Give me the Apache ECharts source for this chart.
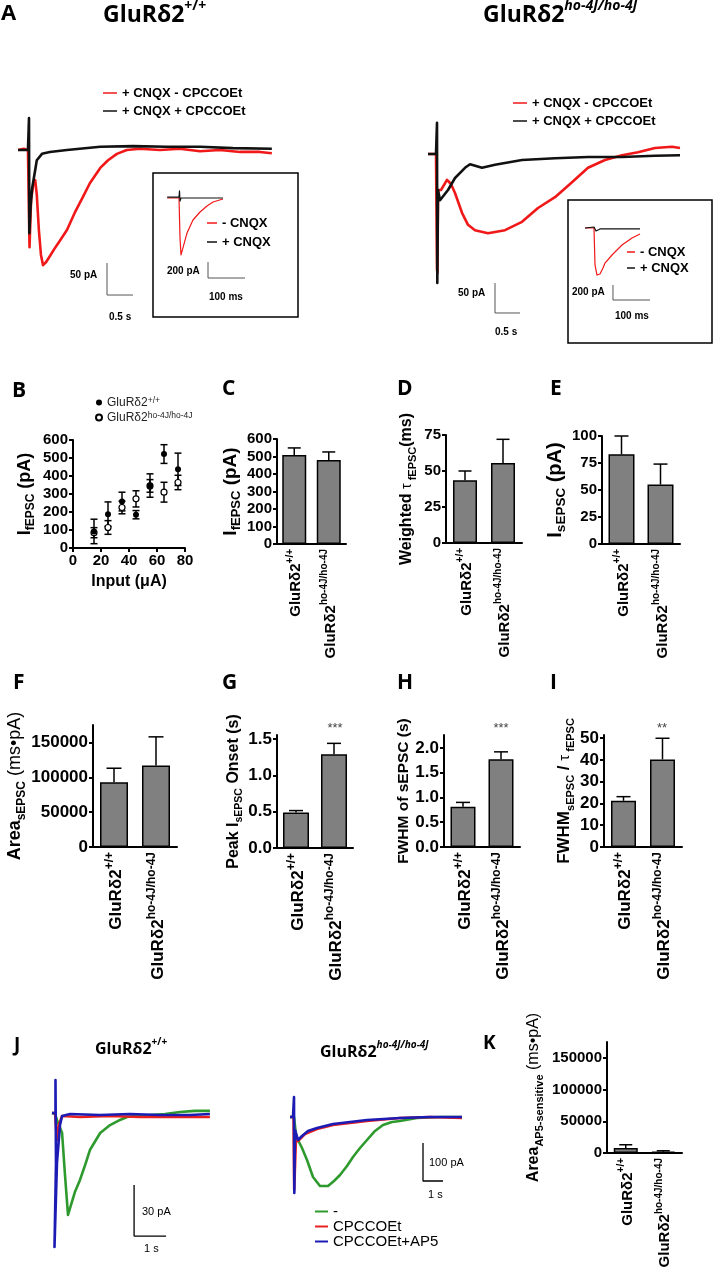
<!DOCTYPE html>
<html><head><meta charset="utf-8">
<script src="https://cdn.jsdelivr.net/npm/echarts@6/dist/echarts.min.js"></script>
<style>html,body{margin:0;padding:0;background:#fff}#c{width:713px;height:1280px}</style>
</head><body><div id="c"></div>
<script>
// ---------------- DATA ----------------
// Panel A traces: [time (s), current (pA)]
const aWtMinusCpcc = [[-0.21,0],[-0.10,2],[-0.02,0],[0.01,-152],[0.04,-78],[0.08,-55],[0.12,-47],[0.15,-70],[0.19,-125],[0.23,-164],[0.27,-180],[0.33,-175],[0.40,-166],[0.50,-153],[0.60,-141],[0.73,-125],[0.88,-98],[1.04,-73],[1.17,-52],[1.37,-28],[1.52,-16],[1.69,-6],[1.88,0],[2.13,2],[2.52,0],[2.90,2],[3.29,-2],[3.67,0],[4.06,-3],[4.44,-3],[4.67,-5]];
const aWtPlusCpcc = [[-0.21,0],[-0.02,0],[0.0,50],[0.006,-130],[0.03,-89],[0.06,-60],[0.12,-31],[0.15,-16],[0.25,-6],[0.40,-3],[0.73,0],[1.37,5],[2.0,6],[2.65,5],[3.29,5],[3.92,3],[4.67,2]];
const aHoMinusCpcc = [[-0.18,0],[-0.02,0],[0.0,-193],[0.01,-198],[0.02,-60],[0.08,-60],[0.20,-43],[0.28,-50],[0.36,-65],[0.50,-98],[0.62,-118],[0.76,-127],[1.02,-132],[1.36,-127],[1.70,-113],[2.02,-90],[2.36,-72],[2.70,-47],[3.02,-23],[3.36,-10],[3.70,-2],[4.02,3],[4.36,10],[4.70,12],[4.86,10]];
const aHoPlusCpcc = [[-0.18,0],[-0.02,0],[0,52],[0.006,-215],[0.02,-60],[0.06,-77],[0.22,-60],[0.36,-40],[0.56,-23],[0.66,-17],[0.78,-20],[0.90,-23],[1.16,-18],[1.70,-10],[2.36,-7],[3.02,-5],[3.70,-5],[4.36,-3],[4.86,-2]];
// Panel A insets: [time (ms), current (pA)]
const aWtInsetMinus = [[-32,0],[0,0],[2.7,-500],[5.4,-712],[8,-690],[21.6,-438],[37.8,-275],[56.8,-175],[75.7,-100],[91.9,-50],[118.9,-12]];
const aWtInsetPlus = [[-32,12],[0,12],[1.4,88],[2.7,-38],[5.4,0],[56.8,0],[118.9,0]];
const aHoInsetMinus = [[-27,0],[-2.7,0],[0,-493],[5.4,-627],[13.5,-613],[21.6,-533],[27,-467],[46,-360],[73,-227],[100,-133],[121.6,-80]];
const aHoInsetPlus = [[-27,0],[-2.7,13],[2.7,-40],[13.5,-13],[121.6,-13]];
// Panel J traces: [time (s), current (pA)]
const jWtNone = [[-0.125,1.2],[-0.03,0.6],[0.03,-2.9],[0.19,-10.6],[0.28,-35],[0.375,-58.8],[0.47,-52.9],[0.59,-45.3],[0.75,-38.2],[0.91,-29.4],[1.06,-20.6],[1.38,-10.6],[1.69,-5.9],[2.0,-2.9],[2.22,-1.2],[2.47,-0.6],[2.94,0],[3.41,0.6],[3.875,1.8],[4.34,2.4],[4.81,2.4]];
const jWtCpcc = [[-0.125,1.2],[-0.03,1.2],[0.03,-14.7],[0.09,-5.9],[0.19,-0.6],[0.75,-1.2],[1.69,-0.6],[2.625,-1.2],[3.56,-1.2],[4.81,-1.2]];
const jWtAp5 = [[-0.125,1.2],[-0.016,1.2],[-0.016,20.6],[0,-28.2],[-0.047,-77.6],[0.03,-28.2],[0.0625,-20.6],[0.125,-5.9],[0.19,-0.6],[0.44,0.6],[1.375,0],[2.31,0.6],[3.25,0],[4.19,0],[4.81,0.6]];
const jHoNone = [[-0.2,0],[0,0],[0.1,-47.4],[0.2,-60.5],[0.4,-81.6],[0.65,-113],[0.95,-158],[1.3,-181.6],[1.7,-181.6],[2.0,-168.4],[2.3,-152.6],[2.65,-129],[2.95,-105.3],[3.3,-81.6],[3.65,-60.5],[4.05,-36.8],[4.45,-21],[4.9,-13.2],[5.3,-10.5],[6.15,-2.6],[7.3,0],[8.4,0]];
const jHoCpcc = [[-0.2,0],[-0.025,0],[0.01,-192],[0.1,-55.3],[0.2,-63.2],[0.55,-44.7],[1.15,-31.6],[1.95,-21],[3.65,-10.5],[5.3,-2.6],[6.8,0],[8.4,-2.6]];
const jHoAp5 = [[-0.2,0],[-0.05,0],[0,52.6],[0.015,-200],[0.05,-34.2],[0.2,-60.5],[0.4,-50],[0.7,-36.8],[1.15,-29],[1.95,-18.4],[2.8,-13.2],[3.65,-7.9],[5.3,-2.6],[6.8,0],[8.4,0]];
// Scale bars: [t0, i0, dt, di]
const sbAWt = [1.5, -176.6, 0.5, 50];
const sbAWtInset = [78.4, -800, 100, 200];
const sbAHo = [1.16, -215, 0.5, 50];
const sbAHoInset = [48.6, -760, 100, 200];
const sbJWt = [2.44, -41.2, 1, 30];
const sbJHo = [6.45, -68.4, 1, 100];
// Panel B: input-output
const bInput = [15,25,35,45,55,65,75];
const bWtMean = [92,188,258,185,347,522,437];
const bWtSem = [68,68,52,23,65,52,90];
const bHoMean = [85,114,225,273,345,310,364];
const bHoSem = [28,38,35,45,35,55,40];
// Bar panels
const genotypes = ['GluRδ2+/+','GluRδ2ho-4J/ho-4J'];
const cMean = [509,480], cSem = [40,46];
const dMean = [43.5,55.5], dSem = [6.5,16.5];
const eMean = [83,55], eSem = [17,19];
const fMean = [93000,117000], fSem = [20000,41000];
const gMean = [0.49,1.29], gSem = [0.025,0.15];
const hMean = [0.81,1.77], hSem = [0.09,0.15];
const iMean = [21.2,40.2], iSem = [1.9,9.7];
const kMean = [8000,2000], kSem = [5000,1500];
const sigG = '***', sigH = '***', sigI = '**';

// ---------------- CHART ----------------
const FONT = '"Liberation Sans", Arial, sans-serif';
const TFONT = '"Open Sans", sans-serif';
const RED = '#f01818', BLACK = '#111', GREEN = '#2e9a2e', BLUE = '#1c1cb4', JRED = '#e82020';
const option = {animation:false, backgroundColor:'#fff', grid:[], xAxis:[], yAxis:[], series:[], legend:[], graphic:[]};

function traceGrid(box, xr, yr, border){
  const gi = option.grid.length;
  option.grid.push({left:box[0], top:box[1], width:box[2], height:box[3], show:!!border, borderColor:'#000', borderWidth:1.5, backgroundColor:'transparent'});
  option.xAxis.push({type:'value', gridIndex:gi, min:xr[0], max:xr[1], show:false});
  option.yAxis.push({type:'value', gridIndex:gi, min:yr[0], max:yr[1], show:false});
  return gi;
}
function trace(gi, name, data, color, width){
  option.series.push({type:'line', name, xAxisIndex:gi, yAxisIndex:gi, data, symbol:'none', showSymbol:false, clip:false, silent:true,
    lineStyle:{color, width, join:'round'}, itemStyle:{color}});
}
function scaleBar(gi, sb, color, width){
  const [t0,i0,dt,di] = sb;
  option.series.push({type:'line', xAxisIndex:gi, yAxisIndex:gi, data:[[t0,i0],[t0,i0-di],[t0+dt,i0-di]], symbol:'none', clip:false, silent:true, lineStyle:{color, width}});
}
function gtext(x, y, text, font, extra){
  option.graphic.push({type:'text', x, y, silent:true, style:Object.assign({text, font, fill:'#000', align:'left', verticalAlign:'middle', textAlign:'left', textVerticalAlign:'middle'}, extra||{})});
}
function titleRich(fs, sfs, italic){
  return {b:{fontFamily:TFONT, fontWeight:'bold', fontSize:fs, lineHeight:fs+4, verticalAlign:'bottom', color:'#000'},
          s:{fontFamily:TFONT, fontWeight:'bold', fontStyle: italic?'italic':'normal', fontSize:sfs, lineHeight:sfs+1, verticalAlign:'top', color:'#000'}};
}
function genoRich(v){ return '{b|' + v.slice(0,6) + '}{s|' + v.slice(6) + '}'; }

// ---- Panel A ----
const gA1 = traceGrid([18,110,254,190], [-0.2115,4.673], [-234.375,62.5]);
trace(gA1, '+ CNQX - CPCCOEt', aWtMinusCpcc, RED, 2.6);
trace(gA1, '+ CNQX + CPCCOEt', aWtPlusCpcc, BLACK, 2.6);
scaleBar(gA1, sbAWt, '#555', 1);
const gA1i = traceGrid([153,173,145,144], [-70.27,321.6], [-1487.5,312.5], true);
trace(gA1i, '- CNQX', aWtInsetMinus, RED, 1.2);
trace(gA1i, '+ CNQX', aWtInsetPlus, BLACK, 1.2);
scaleBar(gA1i, sbAWtInset, '#555', 1);
const gA2 = traceGrid([428,112,254,208], [-0.18,4.9], [-276.67,70]);
trace(gA2, '+ CNQX - CPCCOEt', aHoMinusCpcc, RED, 2.6);
trace(gA2, '+ CNQX + CPCCOEt', aHoPlusCpcc, BLACK, 2.6);
scaleBar(gA2, sbAHo, '#555', 1);
const gA2i = traceGrid([568,200,144,143], [-72.97,316.2], [-1533.3,373.3], true);
trace(gA2i, '- CNQX', aHoInsetMinus, RED, 1.2);
trace(gA2i, '+ CNQX', aHoInsetPlus, BLACK, 1.2);
scaleBar(gA2i, sbAHoInset, '#555', 1);

const legA = {orient:'vertical', icon:'rect', itemWidth:14, itemHeight:1.5, itemGap:4, padding:0, selectedMode:false,
  textStyle:{fontFamily:FONT, fontWeight:'bold', fontSize:13, color:'#000', lineHeight:14}, data:['+ CNQX - CPCCOEt','+ CNQX + CPCCOEt']};
option.legend.push(Object.assign({}, legA, {left:103, top:86}));
option.legend.push(Object.assign({}, legA, {left:513, top:96}));
const legAi = {orient:'vertical', icon:'rect', itemWidth:10, itemHeight:1.5, itemGap:5, padding:0, selectedMode:false,
  textStyle:{fontFamily:FONT, fontWeight:'bold', fontSize:13, color:'#000', lineHeight:14}, data:['- CNQX','+ CNQX']};
option.legend.push(Object.assign({}, legAi, {left:207, top:216}));
option.legend.push(Object.assign({}, legAi, {left:627, top:245, itemWidth:8, itemGap:2}));

gtext(1, 14, 'A', 'bold 22px ' + TFONT);
gtext(103, 13, '{b|GluRδ2}{s|+/+}', 'bold 23px ' + TFONT, {rich:titleRich(23,14,false)});
gtext(483, 13, '{b|GluRδ2}{s|ho-4J/ho-4J}', 'bold 23px ' + TFONT, {rich:titleRich(23,14,true)});
const sFontA = 'bold 10px ' + FONT;
gtext(70, 275, '50 pA', sFontA); gtext(109, 317, '0.5 s', sFontA);
gtext(167, 271, '200 pA', sFontA); gtext(209, 297, '100 ms', sFontA);
gtext(458, 293, '50 pA', sFontA); gtext(495, 332, '0.5 s', sFontA);
gtext(572, 292, '200 pA', sFontA); gtext(615, 316, '100 ms', sFontA);

// ---- helpers for axes ----
const axisLineStyle = {show:true, lineStyle:{color:'#000', width:2}};
function nameRich(fs, sfs){
  return {b:{fontFamily:FONT, fontWeight:'bold', fontSize:fs, lineHeight:fs+6, color:'#000'},
          n:{fontFamily:FONT, fontWeight:'normal', fontSize:fs, lineHeight:fs+6, color:'#000'},
          t:{fontFamily:FONT, fontWeight:'normal', fontSize:fs-2, lineHeight:fs+6, color:'#000'},
          sub:{fontFamily:FONT, fontWeight:'bold', fontSize:sfs, lineHeight:sfs+1, verticalAlign:'bottom', color:'#000'}};
}
function catRich(fs, sfs){
  return {b:{fontFamily:FONT, fontWeight:'bold', fontSize:fs, lineHeight:fs+4, verticalAlign:'bottom', color:'#000'},
          s:{fontFamily:FONT, fontWeight:'bold', fontSize:sfs, lineHeight:sfs+1, verticalAlign:'top', color:'#000'}};
}
function errBars(gi, xs, means, sems, capHalf, both, z){
  return {type:'custom', xAxisIndex:gi, yAxisIndex:gi, silent:true, z:z||1, clip:false,
    data: means.map((m,k)=>[xs?xs[k]:k, m, sems[k]]),
    renderItem(params, api){
      const x = api.value(0), m = api.value(1), e = api.value(2);
      const pt = api.coord([x, m+e]);
      const pb = api.coord([x, both ? m-e : m]);
      const st = {stroke:'#000', lineWidth:1.5};
      const ch = [{type:'line', shape:{x1:pt[0],y1:pt[1],x2:pb[0],y2:pb[1]}, style:st},
                  {type:'line', shape:{x1:pt[0]-capHalf,y1:pt[1],x2:pt[0]+capHalf,y2:pt[1]}, style:st}];
      if (both) ch.push({type:'line', shape:{x1:pb[0]-capHalf,y1:pb[1],x2:pb[0]+capHalf,y2:pb[1]}, style:st});
      return {type:'group', children:ch};
    }};
}
function barPanel(o){
  const gi = option.grid.length;
  option.grid.push({left:o.box[0], top:o.box[1], width:o.box[2], height:o.box[3]});
  option.xAxis.push({type:'category', gridIndex:gi, data:genotypes, axisLine:axisLineStyle, axisTick:{show:false},
    axisLabel:{rotate:90, margin:5, interval:0, formatter:genoRich, rich:catRich(o.cfs, o.cfs-5)}});
  const step = o.interval;
  const isOn = v => Math.abs(v/step - Math.round(v/step)) < 1e-6;
  const ticks = []; for (let v=0; v<=o.max+1e-9; v+=step) if (isOn(v)) ticks.push(+v.toFixed(6));
  option.yAxis.push({type:'value', gridIndex:gi, min:0, max:o.max, interval:step, splitLine:{show:false},
    axisLine:axisLineStyle, axisTick:{show:true, length:4, lineStyle:{color:'#000', width:2}, customValues:ticks},
    axisLabel:{customValues:ticks, margin:5, color:'#000', fontFamily:FONT, fontWeight:'bold', fontSize:o.fs,
      formatter: v => isOn(v) ? (o.dec ? v.toFixed(o.dec) : String(Math.round(v))) : ''},
    name:o.name, nameLocation:'middle', nameRotate:90, nameGap:o.nameGap, nameTextStyle:{rich:nameRich(o.nfs, o.nsfs)}});
  option.series.push(errBars(gi, null, o.mean, o.sem, o.cap, false, 1));
  option.series.push({type:'bar', xAxisIndex:gi, yAxisIndex:gi, data:o.mean, barWidth:o.bw, silent:true, z:2,
    itemStyle:{color:'#808080', borderColor:'#000', borderWidth:1.5}});
  return gi;
}

// ---- Panel B ----
const gB = option.grid.length;
option.grid.push({left:73, top:440, width:112, height:108});
option.xAxis.push({type:'value', gridIndex:gB, min:0, max:80, interval:20, splitLine:{show:false}, axisLine:axisLineStyle,
  axisTick:{show:true, length:4, lineStyle:{color:'#000', width:2}},
  axisLabel:{margin:5, color:'#000', fontFamily:FONT, fontWeight:'bold', fontSize:15},
  name:'Input (μA)', nameLocation:'middle', nameGap:26, nameTextStyle:{fontFamily:FONT, fontWeight:'bold', fontSize:16, color:'#000'}});
option.yAxis.push({type:'value', gridIndex:gB, min:0, max:600, interval:100, splitLine:{show:false}, axisLine:axisLineStyle,
  axisTick:{show:true, length:4, lineStyle:{color:'#000', width:2}},
  axisLabel:{margin:5, color:'#000', fontFamily:FONT, fontWeight:'bold', fontSize:15},
  name:'{b|I}{sub|fEPSC}{b| (pA)}', nameLocation:'middle', nameRotate:90, nameGap:36, nameTextStyle:{rich:nameRich(18,12)}});
option.series.push(errBars(gB, bInput, bHoMean, bHoSem, 3.5, true, 1));
option.series.push(errBars(gB, bInput, bWtMean, bWtSem, 3.5, true, 1));
option.series.push({type:'scatter', name:genotypes[1], xAxisIndex:gB, yAxisIndex:gB, data:bInput.map((x,k)=>[x,bHoMean[k]]),
  symbol:'circle', symbolSize:6, z:3, itemStyle:{color:'#fff', borderColor:'#000', borderWidth:1.2, opacity:1}});
option.series.push({type:'scatter', name:genotypes[0], xAxisIndex:gB, yAxisIndex:gB, data:bInput.map((x,k)=>[x,bWtMean[k]]),
  symbol:'circle', symbolSize:6, z:4, itemStyle:{color:'#000', opacity:1}});
option.legend.push({left:95, top:396, orient:'vertical', icon:'circle', itemWidth:6, itemHeight:6, itemGap:2, padding:0, selectedMode:false,
  data:genotypes, formatter:genoRich,
  textStyle:{fontFamily:FONT, fontSize:12, color:'#222', rich:{b:{fontFamily:FONT, fontSize:12, color:'#222', lineHeight:13, verticalAlign:'bottom'}, s:{fontFamily:FONT, fontSize:8.5, color:'#222', lineHeight:9, verticalAlign:'top'}}}});

// ---- Panels C-E ----
barPanel({box:[277,439,69,105], max:600, interval:100, mean:cMean, sem:cSem, bw:24, cap:6.5, fs:15, cfs:15, nfs:19, nsfs:13, nameGap:33,
  name:'{b|I}{sub|fEPSC}{b| (pA)}'});
barPanel({box:[446,435,76,108], max:75, interval:25, mean:dMean, sem:dSem, bw:24, cap:6.5, fs:15, cfs:15, nfs:16, nsfs:11, nameGap:28,
  name:'{b|Weighted }{t|τ}{sub| fEPSC}{b|(ms)}'});
barPanel({box:[602,436,78,108], max:100, interval:25, mean:eMean, sem:eSem, bw:26, cap:7, fs:15, cfs:15, nfs:20, nsfs:13.5, nameGap:29,
  name:'{b|I}{sub|sEPSC}{b| (pA)}'});
// ---- Panels F-I ----
barPanel({box:[93,725,84,122], max:175000, interval:50000, mean:fMean, sem:fSem, bw:28, cap:7.5, fs:17, cfs:17, nfs:18, nsfs:12, nameGap:60,
  name:'{b|Area}{sub|sEPSC}{n| (ms•pA)}'});
barPanel({box:[277,735,76,113], max:1.555, interval:0.5, dec:1, mean:gMean, sem:gSem, bw:26, cap:7, fs:17, cfs:17, nfs:16, nsfs:10.5, nameGap:32,
  name:'{b|Peak I}{sub|sEPSC}{b| Onset (s)}'});
barPanel({box:[444,735,76,112], max:2.26, interval:0.5, dec:1, mean:hMean, sem:hSem, bw:25, cap:7, fs:17, cfs:17, nfs:15.5, nsfs:11, nameGap:27,
  name:'{b|FWHM of sEPSC (s)}'});
barPanel({box:[604,735,78,112], max:51.4, interval:10, mean:iMean, sem:iSem, bw:25, cap:7, fs:17, cfs:17, nfs:17, nsfs:11, nameGap:20,
  name:'{b|FWHM}{sub|sEPSC}{b| / }{t|τ}{sub| fEPSC}'});
// ---- Panel K ----
barPanel({box:[607,1042,75,111], max:175000, interval:50000, mean:kMean, sem:kSem, bw:24, cap:6.5, fs:15, cfs:15, nfs:16, nsfs:11, nameGap:62,
  name:'{b|Area}{sub|AP5-sensitive}{n| (ms•pA)}'});

// ---- Panel J ----
const gJ1 = traceGrid([48,1075,170,180], [-0.25,5.0625], [-82.35,23.53]);
trace(gJ1, '-', jWtNone, GREEN, 2.6);
trace(gJ1, 'CPCCOEt', jWtCpcc, JRED, 2.6);
trace(gJ1, 'CPCCOEt+AP5', jWtAp5, BLUE, 2.6);
scaleBar(gJ1, sbJWt, '#000', 1.3);
const gJ2 = traceGrid([285,1090,185,110], [-0.45,8.8], [-218.4,71.05]);
trace(gJ2, '-', jHoNone, GREEN, 2.6);
trace(gJ2, 'CPCCOEt', jHoCpcc, JRED, 2.6);
trace(gJ2, 'CPCCOEt+AP5', jHoAp5, BLUE, 2.6);
scaleBar(gJ2, sbJHo, '#000', 1.3);
option.legend.push({left:315, top:1204, orient:'vertical', icon:'rect', itemWidth:13, itemHeight:2, itemGap:0, padding:0, selectedMode:false,
  data:['-','CPCCOEt','CPCCOEt+AP5'], textStyle:{fontFamily:FONT, fontSize:15, color:'#000', lineHeight:12.5}});
const sFontJ = '11px ' + FONT;
gtext(142, 1212, '30 pA', sFontJ); gtext(144, 1249, '1 s', sFontJ);
gtext(429, 1163, '100 pA', sFontJ); gtext(428, 1195, '1 s', sFontJ);

// ---- Panel letters, titles, significance ----
const LF = 'bold 21px ' + TFONT;
gtext(12, 391, 'B', LF); gtext(222, 389, 'C', LF); gtext(397, 389, 'D', LF); gtext(550, 389, 'E', LF);
gtext(13, 683, 'F', LF); gtext(222, 683, 'G', LF); gtext(397, 683, 'H', LF); gtext(550, 683, 'I', LF);
gtext(14, 1046, 'J', 'bold 19px ' + TFONT); gtext(483, 1044, 'K', 'bold 19px ' + TFONT);
gtext(95, 1047, '{b|GluRδ2}{s|+/+}', 'bold 16px ' + TFONT, {rich:titleRich(16,10,false)});
gtext(320, 1050, '{b|GluRδ2}{s|ho-4J/ho-4J}', 'bold 16px ' + TFONT, {rich:titleRich(16,10,true)});
const SF = '13px ' + FONT;
gtext(335, 728, sigG, SF, {fill:'#444', align:'center', textAlign:'center'});
gtext(501, 728, sigH, SF, {fill:'#444', align:'center', textAlign:'center'});
gtext(662, 728, sigI, SF, {fill:'#444', align:'center', textAlign:'center'});

const chart = echarts.init(document.getElementById('c'), null, {renderer:'canvas', width:713, height:1280});
chart.setOption(option);
</script></body></html>
